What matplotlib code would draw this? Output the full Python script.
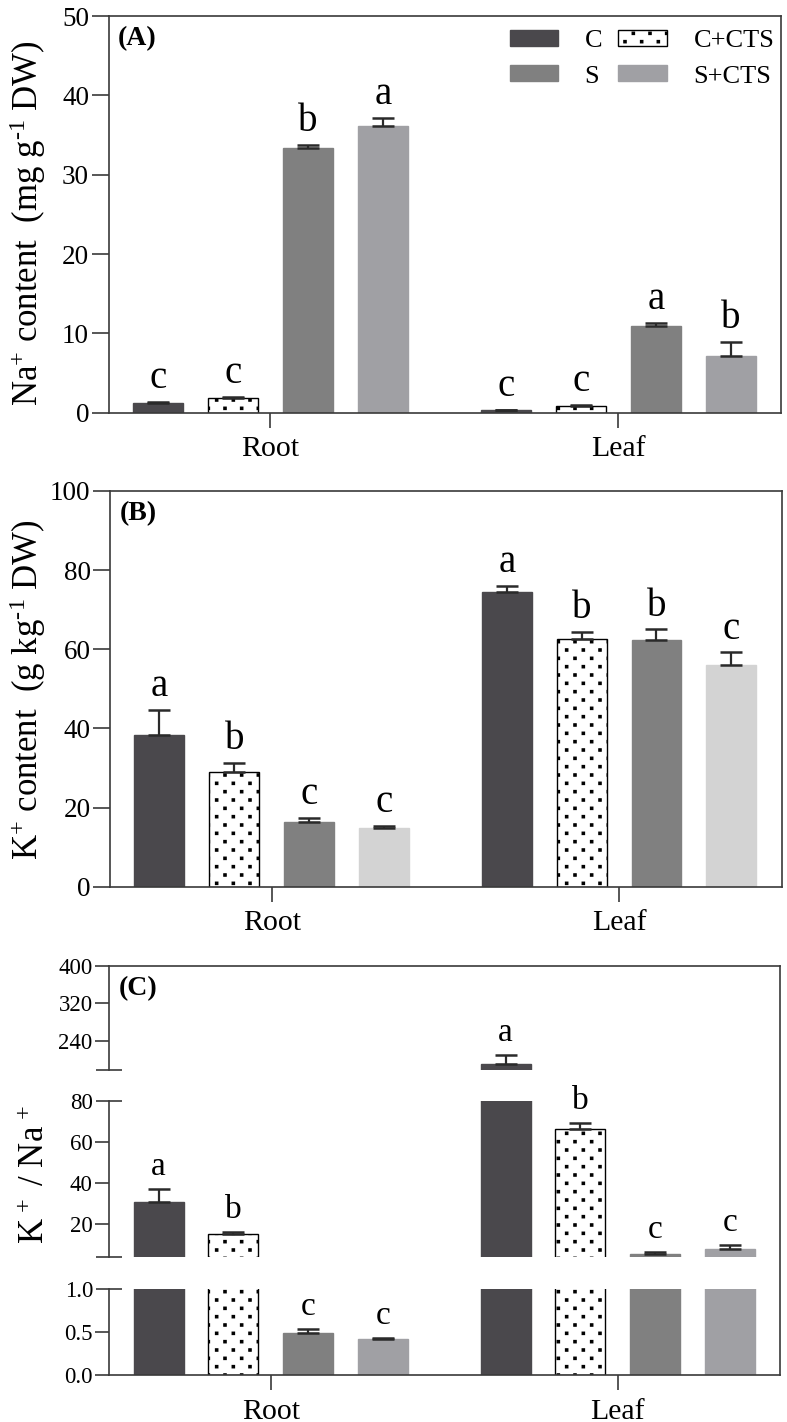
import numpy as np
import matplotlib
matplotlib.use('Agg')
import matplotlib.pyplot as plt
import matplotlib.hatch as mhatch
from matplotlib.path import Path
from matplotlib.patches import Patch

plt.rcParams['font.family'] = ['Liberation Serif', 'DejaVu Serif']
plt.rcParams['mathtext.fontset'] = 'custom'
plt.rcParams['mathtext.rm'] = 'Liberation Serif'
plt.rcParams['mathtext.it'] = 'Liberation Serif:italic'
plt.rcParams['mathtext.bf'] = 'Liberation Serif:bold'
plt.rcParams['hatch.linewidth'] = 1.0
plt.rcParams['hatch.color'] = 'black'


# square dots on a staggered lattice (denser than the stock '.' hatch)
class SquareDots(mhatch.HatchPatternBase):
    side = 0.022

    def __init__(self, hatch, density):
        self.n = hatch.count('.') * density
        self.centers = []
        for r in range(2 * self.n + 1):
            y = r / (2.0 * self.n)
            if r % 2 == 0:
                xs = [c / self.n for c in range(self.n + 1)]
            else:
                xs = [(c + 0.5) / self.n for c in range(self.n)]
            self.centers += [(x, y) for x in xs]
        self.num_vertices = len(self.centers) * 5

    def set_vertices_and_codes(self, vertices, codes):
        sq = (Path.unit_rectangle().vertices - 0.5) * self.side
        sq_codes = Path.unit_rectangle().codes
        for k, (x, y) in enumerate(self.centers):
            vertices[5 * k:5 * k + 5] = sq + [x, y]
            codes[5 * k:5 * k + 5] = sq_codes


mhatch._hatch_types = [SquareDots if t is mhatch.SmallFilledCircles else t
                       for t in mhatch._hatch_types]

# ---------------- data ----------------
groups = ['Root', 'Leaf']
treatments = ['C', 'C+CTS', 'S', 'S+CTS']

na_root = [1.2, 1.9, 33.3, 36.1]
na_root_err = [0.2, 0.1, 0.4, 1.1]
na_root_sig = ['c', 'c', 'b', 'a']
na_leaf = [0.3, 0.9, 10.9, 7.2]
na_leaf_err = [0.1, 0.1, 0.4, 1.7]
na_leaf_sig = ['c', 'c', 'a', 'b']

k_root = [38.3, 28.9, 16.3, 14.9]
k_root_err = [6.4, 2.4, 1.1, 0.5]
k_root_sig = ['a', 'b', 'c', 'c']
k_leaf = [74.6, 62.6, 62.3, 56.0]
k_leaf_err = [1.4, 1.8, 2.7, 3.2]
k_leaf_sig = ['a', 'b', 'b', 'c']

ratio_root = [30.6, 15.1, 0.485, 0.42]
ratio_root_err = [6.5, 1.0, 0.05, 0.01]
ratio_root_sig = ['a', 'b', 'c', 'c']
ratio_leaf = [191.0, 66.3, 5.5, 7.8]
ratio_leaf_err = [19.0, 3.0, 0.7, 1.9]
ratio_leaf_sig = ['a', 'b', 'c', 'c']

# broken axis segments for panel C (bottom -> top)
c_segments = [(0, 1.0), (4, 80), (178, 400)]

# ---------------- style ----------------
col_c = '#4a484c'
col_s = '#808080'
col_scts = '#a0a0a4'
col_scts_b = '#d3d3d3'
spine_col = '#3a3a3a'

group_pos = np.array([0.0, 4.64])
offsets = np.array([-1.5, -0.5, 0.5, 1.5])
bar_w = 0.667
xlim = (-2.16, 6.81)

W, H = 787, 1422
fig = plt.figure(figsize=(W / 100, H / 100), dpi=100)


def frac(x0, y0, x1, y1):
    return [x0 / W, 1 - y1 / H, (x1 - x0) / W, (y1 - y0) / H]


def bar_styles(scts_col):
    return [dict(facecolor=col_c, edgecolor=col_c),
            dict(facecolor='white', edgecolor='black', hatch='.', linewidth=1.0),
            dict(facecolor=col_s, edgecolor=col_s),
            dict(facecolor=scts_col, edgecolor=scts_col)]


def draw_bars(ax, vals_list, errs_list, scts_col):
    styles = bar_styles(scts_col)
    for g, (vals, errs) in enumerate(zip(vals_list, errs_list)):
        for i in range(4):
            x = group_pos[g] + offsets[i]
            ax.bar(x, vals[i], width=bar_w, zorder=2, **styles[i])
            ax.errorbar(x, vals[i], yerr=[[0], [errs[i]]], fmt='none',
                        ecolor='#2a2a2a', elinewidth=1.6, capsize=8,
                        capthick=1.8, zorder=3)


def draw_letters(ax, vals_list, errs_list, sig_list, size, lo=None, hi=None):
    for g in range(2):
        for i in range(4):
            top = vals_list[g][i] + errs_list[g][i]
            if lo is not None and not (lo <= top < hi):
                continue
            ax.annotate(sig_list[g][i], (group_pos[g] + offsets[i], top),
                        xytext=(0, 10), textcoords='offset points',
                        ha='center', va='baseline', fontsize=size, zorder=4)


def style_box(ax):
    for sp in ax.spines.values():
        sp.set_linewidth(1.2)
        sp.set_color(spine_col)
    ax.tick_params(axis='y', direction='out', length=12, width=1.2,
                   color=spine_col, labelsize=19.5, pad=2)
    ax.tick_params(axis='x', direction='out', length=11, width=1.2,
                   color=spine_col, labelsize=21.5, pad=6)
    ax.set_xlim(*xlim)
    ax.set_xticks(group_pos)
    ax.set_xticklabels(groups)


# ---------------- panel A ----------------
axA = fig.add_axes(frac(108.5, 16, 781, 412.7))
draw_bars(axA, [na_root, na_leaf], [na_root_err, na_leaf_err], col_scts)
draw_letters(axA, [na_root, na_leaf], [na_root_err, na_leaf_err],
             [na_root_sig, na_leaf_sig], 28)
axA.set_ylim(0, 50)
axA.set_yticks([0, 10, 20, 30, 40, 50])
style_box(axA)
axA.text(0.014, 0.975, '(A)', transform=axA.transAxes, ha='left', va='top',
         fontsize=20, fontweight='bold')
fig.text(28 / W, 1 - 223 / H, r'Na$^{+}$ content  (mg g$^{\text{-1}}$ DW)',
         rotation=90, ha='center', va='center', fontsize=25)

handles = [Patch(**bar_styles(col_scts)[0]), Patch(**bar_styles(col_scts)[2]),
           Patch(**bar_styles(col_scts)[1]), Patch(**bar_styles(col_scts)[3])]
labels = ['C', 'S', 'C+CTS', 'S+CTS']
axA.legend(handles, labels, ncol=2, loc='upper right', frameon=False,
           fontsize=19, handlelength=1.85, handleheight=0.55,
           handletextpad=1.0, columnspacing=0.6, labelspacing=0.5,
           borderaxespad=0.0, borderpad=0.0, bbox_to_anchor=(0.99, 0.965))

# ---------------- panel B ----------------
axB = fig.add_axes(frac(110, 491, 781.5, 886.7))
draw_bars(axB, [k_root, k_leaf], [k_root_err, k_leaf_err], col_scts_b)
draw_letters(axB, [k_root, k_leaf], [k_root_err, k_leaf_err],
             [k_root_sig, k_leaf_sig], 28)
axB.set_ylim(0, 100)
axB.set_yticks([0, 20, 40, 60, 80, 100])
style_box(axB)
axB.text(0.014, 0.975, '(B)', transform=axB.transAxes, ha='left', va='top',
         fontsize=20, fontweight='bold')
fig.text(28 / W, 1 - 690 / H, r'K$^{+}$ content  (g kg$^{\text{-1}}$ DW)',
         rotation=90, ha='center', va='center', fontsize=25)

# ---------------- panel C (broken axis) ----------------
c_left, c_right = 109.3, 780
frame = fig.add_axes(frac(c_left, 966, c_right, 1375))
frame.patch.set_visible(False)
frame.set_xticks([])
frame.set_yticks([])
frame.spines['left'].set_visible(False)
frame.spines['bottom'].set_visible(False)
for side in ['top', 'right']:
    frame.spines[side].set_linewidth(1.2)
    frame.spines[side].set_color(spine_col)
frame.text(0.014, 0.975, '(C)', transform=frame.transAxes, ha='left',
           va='top', fontsize=20, fontweight='bold')

seg_px = [(1289, 1375), (1101, 1256.7), (966, 1070)]
seg_major = [[0.0, 0.5], [20, 40, 60], [240, 320, 400]]
seg_minor = [[1.0], [4, 80], [178]]
seg_minor_lab = [['1.0'], ['', '80'], ['']]

for k, ((lo, hi), (ytop, ybot)) in enumerate(zip(c_segments, seg_px)):
    ax = fig.add_axes(frac(c_left, ytop, c_right, ybot))
    ax.patch.set_visible(False)
    draw_bars(ax, [ratio_root, ratio_leaf], [ratio_root_err, ratio_leaf_err],
              col_scts)
    draw_letters(ax, [ratio_root, ratio_leaf], [ratio_root_err, ratio_leaf_err],
                 [ratio_root_sig, ratio_leaf_sig], 24, lo, hi)
    ax.set_ylim(lo, hi)
    ax.set_xlim(*xlim)
    ax.spines['top'].set_visible(False)
    ax.spines['right'].set_visible(False)
    ax.spines['left'].set_linewidth(1.2)
    ax.spines['left'].set_color(spine_col)
    ax.spines['bottom'].set_linewidth(1.2)
    ax.spines['bottom'].set_color(spine_col)
    ax.set_yticks(seg_major[k])
    if k == 0:
        ax.set_yticklabels(['0.0', '0.5'])
    ax.set_yticks(seg_minor[k], minor=True)
    ax.set_yticklabels(seg_minor_lab[k], minor=True)
    ax.tick_params(axis='y', which='major', direction='out', length=10,
                   width=1.2, color=spine_col, labelsize=16.5, pad=2)
    ax.tick_params(axis='y', which='minor', direction='inout', length=19,
                   width=1.2, color=spine_col, labelsize=16.5, pad=2)
    if k == 0:
        ax.set_xticks(group_pos)
        ax.set_xticklabels(groups)
        ax.tick_params(axis='x', direction='out', length=11, width=1.2,
                       color=spine_col, labelsize=21.5, pad=6)
    else:
        ax.spines['bottom'].set_visible(False)
        ax.set_xticks([])

fig.text(35 / W, 1 - 1175 / H, r'K$^{\,+}$ / Na$^{\,+}$', rotation=90,
         ha='center', va='center', fontsize=25)

fig.savefig('out.png', dpi=100)
